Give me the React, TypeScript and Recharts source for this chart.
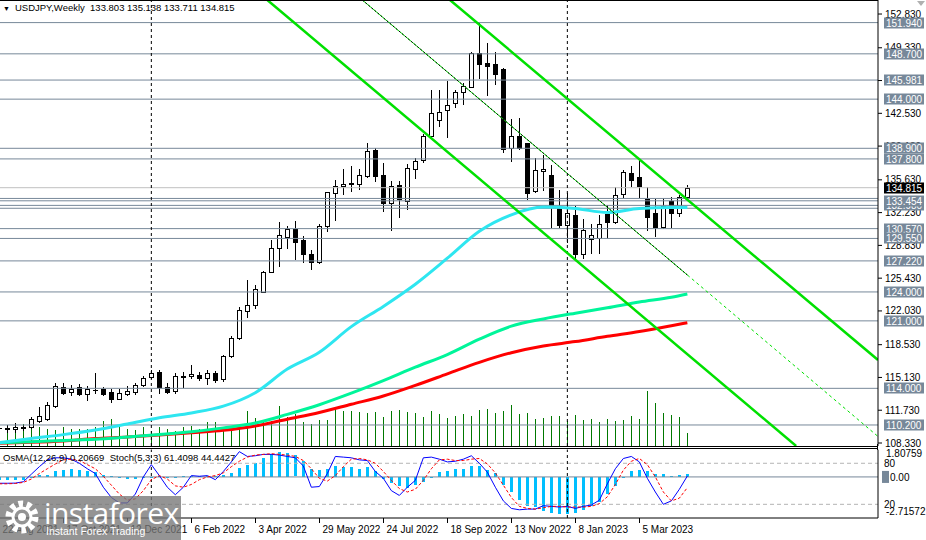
import React from "react";
import { ComposedChart, Bar, Line, XAxis, YAxis, ReferenceLine } from "recharts";

const FONT = "'Liberation Sans', Arial, sans-serif";

// weekly USDJPY candles, bar 0 = week of 22 Aug 2021, bar 86 = week of 16 Apr 2023
const opens = [
  109.9, 109.92, 109.75, 109.95, 109.95, 110.61, 110.82, 112.17, 114.17, 113.59,
  114.17, 113.37, 113.8, 113.93, 113.59, 112.89, 113.37, 113.59, 114.34, 115.14,
  115.73, 114.1, 113.76, 115.28, 115.32, 115.42, 115.04, 115.56, 114.93, 117.35,
  119.19, 122.03, 122.65, 124.03, 126.1, 128.52, 129.7, 130.5, 129.37, 127.9,
  127.07, 130.88, 134.3, 134.99, 135.3, 135.2, 136.07, 138.73, 136.14, 133.25,
  135.1, 133.4, 136.8, 137.66, 140.14, 141.8, 142.9, 143.63, 144.72, 145.3,
  148.8, 147.8, 147.6, 147.15, 138.9, 140.2, 139.4, 134.5, 136.5, 136.1,
  132.9, 130.9, 132.0, 127.9, 129.49, 129.6, 132.1, 131.25, 134.2, 136.35,
  135.95, 133.6, 132.15, 130.75, 133.4, 132.2, 133.803,
];
const highs = [
  110.1, 110.2, 110.37, 110.2, 111.06, 112.1, 112.62, 114.59, 114.52, 114.38,
  114.45, 114.24, 115.63, 114.17, 113.9, 113.9, 114.24, 114.59, 115.28, 115.9,
  115.9, 114.59, 115.63, 115.73, 116.42, 115.73, 115.9, 115.83, 117.45, 119.43,
  122.48, 125.24, 124.72, 126.2, 129.39, 131.28, 130.81, 131.38, 129.78, 128.3,
  131.05, 134.4, 135.6, 136.8, 137.07, 136.73, 139.43, 138.9, 137.41, 135.5,
  135.5, 137.28, 137.94, 140.4, 144.95, 144.9, 145.92, 144.95, 145.7, 148.9,
  151.94, 149.8, 148.9, 147.2, 141.97, 142.0, 139.5, 137.87, 138.2, 137.2,
  134.55, 134.3, 132.9, 131.6, 131.06, 132.0, 133.0, 134.9, 136.6, 137.05,
  137.8, 134.9, 133.6, 133.7, 133.8, 134.1, 135.138,
];
const lows = [
  109.6, 109.51, 109.51, 109.68, 109.85, 110.54, 110.72, 112.1, 113.37, 113.3,
  113.3, 112.79, 113.48, 113.3, 112.55, 112.86, 113.3, 113.37, 114.28, 115.04,
  113.48, 113.48, 113.48, 114.17, 115.04, 114.87, 114.45, 114.69, 114.8, 117.28,
  119.09, 121.44, 122.31, 123.96, 126.03, 126.68, 128.59, 127.46, 127.07, 126.34,
  126.96, 130.33, 131.45, 134.2, 134.5, 134.65, 135.97, 135.55, 132.43, 130.43,
  131.74, 132.6, 135.8, 137.5, 140.0, 141.2, 140.1, 143.2, 143.5, 145.24,
  146.2, 144.45, 145.6, 138.5, 137.6, 138.8, 133.6, 134.4, 134.6, 130.7,
  130.7, 129.2, 127.45, 127.5, 128.0, 128.0, 129.6, 131.15, 133.9, 135.0,
  133.9, 130.45, 129.8, 130.6, 130.7, 131.9, 133.711,
];
const closes = [
  109.85, 109.78, 110.02, 109.88, 110.79, 111.13, 112.27, 114.24, 113.48, 113.93,
  113.37, 113.9, 113.85, 113.37, 112.89, 113.48, 113.76, 114.34, 115.04, 115.56,
  114.17, 113.65, 115.28, 115.14, 115.49, 115.04, 115.63, 114.87, 117.35, 119.19,
  122.13, 122.65, 124.27, 126.1, 128.52, 129.9, 130.57, 129.2, 127.9, 127.07,
  130.84, 134.33, 134.99, 135.2, 135.2, 136.14, 138.63, 136.07, 133.2, 134.99,
  133.6, 136.9, 137.56, 140.17, 142.56, 142.65, 143.4, 144.77, 145.4, 148.8,
  147.6, 147.45, 146.6, 138.81, 140.2, 138.9, 134.3, 136.6, 136.75, 133.05,
  130.9, 132.2, 127.9, 130.4, 129.9, 131.1, 131.25, 134.1, 136.4, 135.65,
  134.95, 131.8, 130.75, 132.9, 132.2, 133.85, 134.815,
];
// tick volume (thousands)
const volumes = [
  18, 20, 21, 22, 17, 19, 17, 16, 19, 17,
  17, 17, 19, 25, 27, 20, 17, 16, 19, 15,
  19, 17, 15, 19, 20, 17, 24, 24, 19, 17,
  19, 35, 28, 24, 25, 40, 29, 32, 24, 22,
  26, 26, 37, 35, 35, 34, 33, 34, 29, 35,
  36, 34, 33, 29, 35, 32, 28, 30, 32, 30,
  36, 37, 33, 35, 41, 32, 33, 27, 28, 30,
  30, 25, 31, 26, 27, 24, 27, 25, 26, 30,
  27, 55, 43, 33, 31, 29, 13,
];
const osma = [
  -0.2, -0.22, -0.22, -0.2, -0.08, 0.1, 0.15, 0.37, 0.48, 0.55,
  0.48, 0.42, 0.33, 0.15, 0.09, 0.02, -0.1, -0.1, -0.05, 0.0,
  0.03, -0.03, 0.02, 0.05, 0.08, 0.05, 0.05, 0.04, 0.12, 0.26,
  0.59, 0.77, 0.92, 1.25, 1.51, 1.64, 1.57, 1.42, 1.03, 0.55,
  0.45, 0.5, 0.7, 0.65, 0.63, 0.55, 0.63, 0.42, -0.13, -0.39,
  -0.61, -0.75, -0.55, -0.35, 0.02, 0.3, 0.42, 0.55, 0.55, 0.74,
  0.7, 0.48, 0.26, -0.55, -1.0, -1.49, -1.92, -1.99, -2.25, -2.36,
  -2.47, -2.47, -2.36, -2.21, -1.92, -1.64, -1.11, -0.61, -0.05, 0.37,
  0.48, 0.42, 0.2, 0.2, 0.09, 0.15, 0.20669,
];
const stochMain = [
  50.8, 50.8, 51, 53, 64, 75, 85, 88, 88, 86,
  80, 72, 65, 45, 30, 22, 22, 35, 60, 78,
  62, 45, 34, 45, 62, 61, 62, 56, 68, 82,
  97, 90, 91, 93, 93, 92, 90, 88, 76, 45,
  46, 65, 90, 89, 88, 85, 84, 68, 58, 40,
  33, 45, 55, 88, 89, 86, 82, 83, 86, 91,
  80, 67, 45, 25, 14, 12, 13, 13, 18, 17,
  16, 17, 14, 17, 19, 26, 50, 72, 87, 90,
  82, 58, 38, 20, 25, 42, 61.4098,
];
const stochSignal = [
  50, 50, 50.5, 52, 57, 65, 72, 79, 85, 86,
  84, 78, 72, 61, 48, 35, 26, 28, 40, 56,
  62, 57, 47, 45, 49, 56, 60, 62, 66, 75,
  83, 89, 92, 93, 94, 93, 92, 90, 84, 72,
  58, 54, 62, 75, 86, 87, 85, 80, 68, 55,
  43, 38, 42, 55, 72, 85, 86, 84, 84, 86,
  87, 79, 66, 48, 30, 17, 14, 13, 15, 17,
  17, 16, 16, 16, 17, 21, 31, 49, 70, 83,
  87, 78, 60, 38, 25, 29, 44.4427,
];

// moving averages
const maIdx = [0, 4, 8, 12, 16, 20, 24, 28, 32, 36, 40, 44, 48, 52, 56, 60, 64, 68, 72, 76, 80, 84, 86];
const maCyan = [108.36, 108.8, 109.2, 109.68, 110.3, 110.95, 111.45, 112.15, 113.55, 116.0, 117.75, 120.4, 122.5, 124.8, 127.5, 130.3, 132.0, 132.8, 132.65, 132.25, 132.65, 132.75, 132.75];
const maGreen = [108.36, 108.45, 108.6, 108.72, 108.95, 109.2, 109.5, 109.9, 110.4, 111.3, 112.3, 113.5, 114.8, 116.2, 117.5, 119.1, 120.45, 121.2, 121.8, 122.35, 122.95, 123.45, 123.79];
const maRed = [108.3, 108.4, 108.55, 108.8, 108.95, 109.15, 109.4, 109.65, 110.1, 110.8, 111.5, 112.35, 113.2, 114.3, 115.5, 116.7, 117.7, 118.4, 118.85, 119.4, 119.9, 120.5, 120.81];

const priceTicks = [108.33, 111.73, 115.13, 118.53, 122.03, 125.43, 128.83, 132.23, 135.63, 139.13, 142.53, 145.93, 149.33, 152.83];
const levels = [151.94, 148.7, 145.981, 144.0, 138.9, 137.8, 132.98, 133.454, 130.57, 129.55, 127.22, 124.0, 121.0, 114.0, 110.2];
const zoneEdges = [133.7, 132.68];
const lastPrice = 134.815;

const dateIdx = [0, 8, 16, 24, 32, 40, 48, 56, 64, 72, 80];
const dateLabels = ["22 Aug 2021", "17 Oct 2021", "12 Dec 2021", "6 Feb 2022", "3 Apr 2022", "29 May 2022", "24 Jul 2022", "18 Sep 2022", "13 Nov 2022", "8 Jan 2023", "5 Mar 2023"];
const yearStarts = [19, 71];

// trend lines as [bar, price] pairs
const channelUpper = [[56.33, 154.285], [109.83, 116.94]];
const channelLower = [[33.5, 154.285], [99.6, 108.02]];
const midLine = [[45.37, 154.285], [86, 125.76]];
const midRay = [[86, 125.76], [109.87, 108.98]];

const X_DOMAIN: [number, number] = [0.084, 109.83];
const PRICE_DOMAIN: [number, number] = [108.019, 154.285];
const OSMA_DOMAIN: [number, number] = [-2.71572, 1.80759];

const LEVEL = "#778899";
const GREEN = "#00E000";

const rows = opens.map((o, i) => {
  const k = maIdx.indexOf(i);
  return {
    i,
    open: o,
    high: highs[i],
    low: lows[i],
    close: closes[i],
    range: [lows[i], highs[i]],
    vol: volumes[i],
    osma: osma[i],
    sMain: stochMain[i],
    sSig: stochSignal[i],
    cyan: k >= 0 ? maCyan[k] : null,
    green: k >= 0 ? maGreen[k] : null,
    red: k >= 0 ? maRed[k] : null,
  };
});

const seg = (pts: number[][]) => pts.map(([x, y]) => ({ x, y }));

function Candle(props: any) {
  const { x, y, width, height, payload } = props;
  if (!payload || height == null || isNaN(y)) return null;
  const { open, close, high, low } = payload;
  const cx = Math.floor(x + width / 2) + 0.5;
  const k = height / (high - low || 1);
  const yOf = (v: number) => y + (high - v) * k;
  const top = Math.round(yOf(Math.max(open, close))) + 0.5;
  const bot = Math.round(yOf(Math.min(open, close))) + 0.5;
  const bull = close >= open;
  return (
    <g>
      <line x1={cx} x2={cx} y1={Math.round(y)} y2={Math.round(y + height) + 1} stroke="#000" />
      {bot - top >= 1 ? (
        <rect x={cx - 2} y={top} width={4} height={bot - top} fill={bull ? "#fff" : "#000"} stroke="#000" />
      ) : (
        <line x1={cx - 2.5} x2={cx + 2.5} y1={top} y2={top} stroke="#000" />
      )}
    </g>
  );
}

function VolTick(props: any) {
  const { x, y, width, height } = props;
  if (height == null || isNaN(y)) return null;
  const cx = Math.floor(x + width / 2) + 0.5;
  return <line x1={cx} x2={cx} y1={Math.round(y)} y2={Math.round(y + height)} stroke="#007800" />;
}

function OsmaBar(props: any) {
  const { x, y, width, height } = props;
  if (height == null || isNaN(y)) return null;
  const cx = Math.floor(x + width / 2);
  const top = Math.round(Math.min(y, y + height));
  const h = Math.max(Math.round(Math.abs(height)), 1);
  return <rect x={cx - 1} y={top} width={3} height={h} fill="#00BFFF" />;
}

function Tag(props: any) {
  const { viewBox, text, bg } = props;
  if (!viewBox) return null;
  const x = viewBox.x + viewBox.width + 6;
  const y = Math.round(viewBox.y);
  return (
    <g>
      <rect x={x} y={y - 5.5} width={40} height={11} fill={bg} />
      <text x={x + 2} y={y} dy="0.36em" fontSize={10} fill="#fff" fontFamily={FONT}>{text}</text>
    </g>
  );
}

function SideText(props: any) {
  const { viewBox, text } = props;
  if (!viewBox) return null;
  return (
    <text x={viewBox.x + viewBox.width + 6} y={viewBox.y} dy="0.36em" fontSize={10} fill="#000" fontFamily={FONT}>{text}</text>
  );
}

function DateTick(props: any) {
  const { x, y, payload } = props;
  const k = dateIdx.indexOf(payload.value);
  if (k < 0) return null;
  const px = Math.round(x) + 0.5;
  return (
    <g>
      <line x1={px} x2={px} y1={y - 4} y2={y + 1} stroke="#000" />
      <text x={px + 3} y={y + 11} fontSize={10} fill="#000" fontFamily={FONT}>{dateLabels[k]}</text>
    </g>
  );
}

function OsmaTick(props: any) {
  const { x, y, payload } = props;
  const v = payload.value;
  const dy = v === OSMA_DOMAIN[1] ? 4 : v === OSMA_DOMAIN[0] ? -7 : 0;
  const text = v === 0 ? "0.00" : v.toFixed(5);
  return (
    <g>
      {v === 0 && <rect x={x - 2} y={y - 6} width={7} height={12} fill={LEVEL} />}
      <text x={v === 0 ? x + 6 : x + 2} y={y + dy} dy="0.36em" fontSize={10} fill="#000" fontFamily={FONT}>{text}</text>
    </g>
  );
}

function MainChart() {
  return (
    <ComposedChart width={926} height={450} data={rows} margin={{ top: 0, right: 0, bottom: 4, left: 0 }}>
      <XAxis dataKey="i" type="number" domain={X_DOMAIN} allowDataOverflow hide />
      <XAxis xAxisId="v" dataKey="i" type="number" domain={X_DOMAIN} allowDataOverflow hide />
      <YAxis
        orientation="right"
        width={48}
        domain={PRICE_DOMAIN}
        allowDataOverflow
        ticks={priceTicks}
        interval={0}
        tickSize={4}
        tickMargin={3}
        axisLine={{ stroke: "#000" }}
        tickLine={{ stroke: "#000" }}
        tick={{ fontSize: 10, fill: "#000", fontFamily: FONT }}
        tickFormatter={(v: number) => v.toFixed(3)}
      />
      <YAxis yAxisId="vol" hide domain={[0, 446]} />

      {zoneEdges.map((p) => (
        <ReferenceLine key={"z" + p} y={p} stroke={LEVEL} />
      ))}
      {levels.map((p) => (
        <ReferenceLine key={"l" + p} y={p} stroke={LEVEL} />
      ))}
      <ReferenceLine y={lastPrice} stroke="#C0C0C0" />
      {yearStarts.map((b) => (
        <ReferenceLine key={"y" + b} x={b} stroke="#000" strokeDasharray="3 3" />
      ))}

      <Bar xAxisId="v" yAxisId="vol" dataKey="vol" barSize={1} shape={(p: any) => <VolTick {...p} />} isAnimationActive={false} />
      <Bar dataKey="range" barSize={5} shape={(p: any) => <Candle {...p} />} isAnimationActive={false} />

      <Line dataKey="red" stroke="#FF0000" strokeWidth={3} dot={false} connectNulls type="monotone" isAnimationActive={false} />
      <Line dataKey="green" stroke="#00F59A" strokeWidth={3} dot={false} connectNulls type="monotone" isAnimationActive={false} />
      <Line dataKey="cyan" stroke="#2EE6F0" strokeWidth={3} dot={false} connectNulls type="monotone" isAnimationActive={false} />

      <ReferenceLine segment={seg(channelUpper)} stroke={GREEN} strokeWidth={2.5} ifOverflow="hidden" />
      <ReferenceLine segment={seg(channelLower)} stroke={GREEN} strokeWidth={2.5} ifOverflow="hidden" />
      <ReferenceLine segment={seg(midLine)} stroke={GREEN} strokeWidth={1} ifOverflow="hidden" />
      <ReferenceLine segment={seg(midLine)} stroke="#000" strokeWidth={1} strokeDasharray="2 2" ifOverflow="hidden" />
      <ReferenceLine segment={seg(midRay)} stroke={GREEN} strokeWidth={1} strokeDasharray="3 3" ifOverflow="hidden" />
    </ComposedChart>
  );
}

// price tags of the horizontal levels, drawn on a layer above the price scale
function TagLayer() {
  return (
    <ComposedChart width={926} height={450} data={rows} margin={{ top: 0, right: 48, bottom: 4, left: 0 }}>
      <XAxis dataKey="i" type="number" domain={X_DOMAIN} allowDataOverflow hide />
      <YAxis domain={PRICE_DOMAIN} allowDataOverflow hide />
      {levels.map((p) => (
        <ReferenceLine key={"t" + p} y={p} stroke="none" label={(lp: any) => <Tag {...lp} text={p.toFixed(3)} bg={LEVEL} />} />
      ))}
      <ReferenceLine y={lastPrice} stroke="none" label={(lp: any) => <Tag {...lp} text={lastPrice.toFixed(3)} bg="#000" />} />
    </ComposedChart>
  );
}

function IndicatorChart() {
  return (
    <ComposedChart width={926} height={92} data={rows} margin={{ top: 1.6, right: 0, bottom: 0, left: 0 }}>
      <XAxis
        dataKey="i"
        type="number"
        domain={X_DOMAIN}
        allowDataOverflow
        ticks={dateIdx}
        interval={0}
        height={22}
        tickSize={4}
        tickMargin={0}
        axisLine={{ stroke: "#000" }}
        tickLine={false}
        tick={(p: any) => <DateTick {...p} />}
      />
      <YAxis
        yAxisId="osma"
        orientation="right"
        width={48}
        domain={OSMA_DOMAIN}
        allowDataOverflow
        ticks={[OSMA_DOMAIN[1], 0, OSMA_DOMAIN[0]]}
        interval={0}
        tickSize={4}
        tickMargin={2}
        axisLine={{ stroke: "#000" }}
        tickLine={false}
        tick={(p: any) => <OsmaTick {...p} />}
      />
      <YAxis yAxisId="stoch" hide domain={[0, 100]} />

      <ReferenceLine yAxisId="stoch" y={80} stroke="#B4B4B4" strokeDasharray="4 3" label={(lp: any) => <SideText {...lp} text="80" />} />
      <ReferenceLine yAxisId="stoch" y={20} stroke="#B4B4B4" strokeDasharray="4 3" label={(lp: any) => <SideText {...lp} text="20" />} />
      <ReferenceLine yAxisId="osma" y={0} stroke={LEVEL} />
      {yearStarts.map((b) => (
        <ReferenceLine key={"y" + b} yAxisId="osma" x={b} stroke="#000" strokeDasharray="3 3" />
      ))}

      <Bar yAxisId="osma" dataKey="osma" barSize={3} shape={(p: any) => <OsmaBar {...p} />} isAnimationActive={false} />
      <Line yAxisId="stoch" dataKey="sMain" stroke="#0000FF" strokeWidth={1} dot={false} type="linear" isAnimationActive={false} />
      <Line yAxisId="stoch" dataKey="sSig" stroke="#FF0000" strokeWidth={1} strokeDasharray="3 2" dot={false} type="linear" isAnimationActive={false} />
    </ComposedChart>
  );
}

function Watermark() {
  return (
    <div style={{ position: "absolute", left: 0, top: 496, width: 181, height: 44, background: "rgba(118,118,118,0.78)" }}>
      <svg width={40} height={40} style={{ position: "absolute", left: 3, top: 2 }}>
        <circle cx={19} cy={19} r={13} fill="none" stroke="#fff" strokeWidth={7} strokeDasharray="4.5 3.7" />
        <circle cx={19} cy={19} r={9} fill="none" stroke="#fff" strokeWidth={3} />
        <circle cx={19} cy={19} r={4} fill="#fff" />
      </svg>
      <div style={{ position: "absolute", left: 44, top: 0, color: "#fff", fontFamily: "'Open Sans', sans-serif", fontSize: 30, lineHeight: "34px", letterSpacing: -0.6 }}>
        instaforex
      </div>
      <div style={{ position: "absolute", left: 46, top: 29, color: "#fff", fontFamily: FONT, fontSize: 10.5, lineHeight: "12px" }}>
        Instant Forex Trading
      </div>
    </div>
  );
}

export default function App() {
  const hline = (top: number, width = 878) => (
    <div style={{ position: "absolute", left: 0, top, width, height: 1, background: "#000" }} />
  );
  return (
    <div style={{ position: "relative", width: 926, height: 540, background: "#fff", overflow: "hidden", fontFamily: FONT }}>
      <style>{"body{margin:0}"}</style>
      <div style={{ position: "absolute", left: 0, top: 448 }}>
        <IndicatorChart />
      </div>
      <div style={{ position: "absolute", left: 0, top: 0 }}>
        <MainChart />
      </div>
      <div style={{ position: "absolute", left: 0, top: 0, pointerEvents: "none" }}>
        <TagLayer />
      </div>
      {hline(0)}
      {hline(446)}
      {hline(448)}
      <div style={{ position: "absolute", left: 877, top: 444, width: 1, height: 6, background: "#000" }} />
      <div style={{ position: "absolute", left: 3, top: 2, fontSize: 9.5, color: "#000", whiteSpace: "pre", lineHeight: "12px" }}>
        <span style={{ fontSize: 7, marginRight: 5 }}>▼</span>USDJPY,Weekly  133.803 135.138 133.711 134.815
      </div>
      <div style={{ position: "absolute", left: 3, top: 452, fontSize: 9.5, color: "#000", whiteSpace: "pre", lineHeight: "12px" }}>
        OsMA(12,26,9) 0.20669  Stoch(5,3,3) 61.4098 44.4427
      </div>
      <svg width={10} height={8} style={{ position: "absolute", left: 916, top: 0 }}>
        <polygon points="1,1 9,1 5,6" fill="#B0B0B0" />
      </svg>
      <Watermark />
    </div>
  );
}
